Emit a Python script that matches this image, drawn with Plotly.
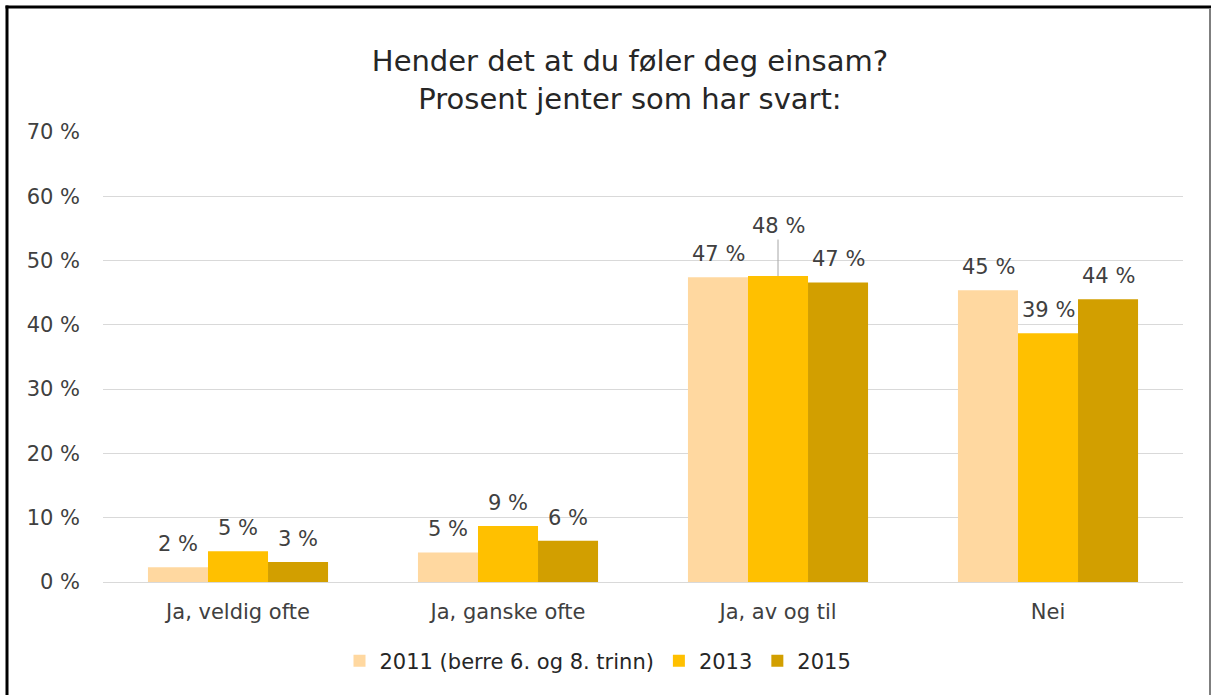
import plotly.graph_objects as go

categories = ["Ja, veldig ofte", "Ja, ganske ofte", "Ja, av og til", "Nei"]
series_names = ["2011 (berre 6. og 8. trinn)", "2013", "2015"]
values_2011 = [2.3, 4.6, 47.4, 45.4]
values_2013 = [4.8, 8.7, 47.6, 38.7]
values_2015 = [3.1, 6.4, 46.6, 44.0]
colors = ["#FFD8A0", "#FFC000", "#D29F00"]
tick_vals = [0, 10, 20, 30, 40, 50, 60, 70]
tick_text = [f"{v} %" for v in tick_vals]

W, H = 1212, 695
L, R, T, B = 103, 29, 132, 113
FONT = "DejaVu Sans"
TXT = "#404040"
FS = 21

fig = go.Figure()
all_vals = [values_2011, values_2013, values_2015]
for name, vals, col in zip(series_names, all_vals, colors):
    fig.add_trace(go.Bar(
        x=categories, y=vals, name=name,
        marker=dict(color=col, line=dict(width=0)),
    ))

# data labels as annotations (Excel-style offset above bars)
shifts = [-60, 0, 60]
for si, vals in enumerate(all_vals):
    for ci, v in enumerate(vals):
        label = f"{round(v)} %"
        if si == 1 and ci == 2:
            fig.add_annotation(x=categories[ci], y=v, xref="x", yref="y",
                               text=label, showarrow=True, arrowhead=0,
                               arrowwidth=1, arrowcolor="#A6A6A6", ax=0, ay=-50,
                               standoff=0, font=dict(family=FONT, size=FS, color=TXT))
        else:
            fig.add_annotation(x=categories[ci], y=v, xref="x", yref="y",
                               text=label, showarrow=False, xshift=shifts[si],
                               yshift=9, yanchor="bottom",
                               font=dict(family=FONT, size=FS, color=TXT))

fig.update_layout(
    width=W, height=H,
    margin=dict(l=L, r=R, t=T, b=B),
    paper_bgcolor="white", plot_bgcolor="white",
    barmode="group", bargap=0.333, bargroupgap=0,
    font=dict(family=FONT, size=FS, color=TXT),
    title=dict(text="Hender det at du føler deg einsam?<br>Prosent jenter som har svart:",
               x=630 / W, xanchor="center", xref="container",
               y=1 - 71 / H, yanchor="middle", yref="container",
               font=dict(family=FONT, size=29, color="#262626")),
    xaxis=dict(showgrid=False, showline=True, linecolor="#D9D9D9", linewidth=1,
               ticks="", ticklabelstandoff=11,
               tickfont=dict(family=FONT, size=FS, color=TXT)),
    yaxis=dict(range=[0, 70], tickvals=tick_vals, ticktext=tick_text,
               showgrid=True, gridcolor="#D9D9D9", gridwidth=1, zeroline=False,
               showline=False, ticks="", ticklabelstandoff=22,
               tickfont=dict(family=FONT, size=FS, color=TXT)),
    legend=dict(orientation="h", x=598 / W, xanchor="center", xref="container",
                y=1 - 661 / H, yanchor="middle", yref="container",
                font=dict(family=FONT, size=FS, color="#262626"),
                itemwidth=30, traceorder="normal"),
)

pw, ph = W - L - R, H - T - B
def px(x):
    return (x - L) / pw
def py(y):
    return (H - B - y) / ph

fig.add_shape(type="line", xref="paper", yref="paper", x0=px(7), x1=px(7), y0=py(5.5), y1=py(H + 5),
              line=dict(color="black", width=3))
fig.add_shape(type="line", xref="paper", yref="paper", x0=px(5.5), x1=px(1211), y0=py(7), y1=py(7),
              line=dict(color="black", width=3))
fig.add_shape(type="line", xref="paper", yref="paper", x0=px(1210), x1=px(1210), y0=py(8), y1=py(H + 5),
              line=dict(color="#7F7F7F", width=2))

fig.write_html("out.html", config={"displayModeBar": False},
               post_script="document.body.style.margin='0';document.body.style.overflow='hidden';")
